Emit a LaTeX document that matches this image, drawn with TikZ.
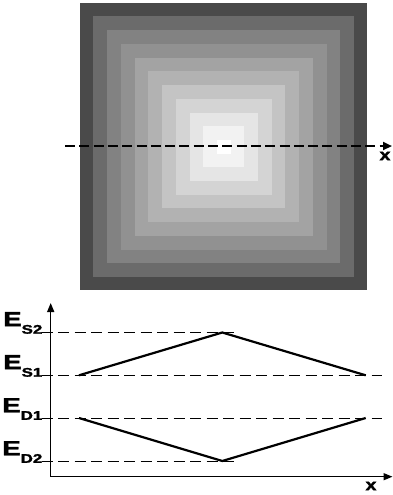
\documentclass[tikz,border=0pt]{standalone}
\usepackage{graphicx}
\usepackage{fontspec}
\setmainfont{Liberation Sans}
\newfontfamily\gordo{Liberation Sans}[BoldFeatures={FakeBold=1.6}]
\usetikzlibrary{arrows.meta,calc,positioning}
\tikzset{
  corte/.style={
    line width=2.4pt,
    dash pattern=on 10pt off 4.3pt,
    -{Triangle[length=9pt,width=8pt]}
  },
  eje/.style={
    line width=1.5pt,
    -{Triangle[length=9pt,width=7pt]}
  },
  nivel/.style={
    line width=0.9pt,
    dash pattern=on 11pt off 5.5pt
  },
  banda/.style={
    line width=2.2pt,
    line join=miter
  },
  energia/.style={
    anchor=south east,
    inner sep=0pt,
    font=\gordo\bfseries\fontsize{20.5}{22}\selectfont
  },
  eje x/.style={
    inner sep=0pt,
    font=\gordo\bfseries\fontsize{16}{17}\selectfont
  }
}
\newcommand{\nivelE}[1]{\scalebox{1.35}[1]{E\raisebox{-7.5pt}{\fontsize{12.5}{13}\selectfont #1}}}

\begin{document}
\begin{tikzpicture}[x=1pt,y=-1pt]
\useasboundingbox (0,0) rectangle (393,495);
% squares, dark outside to white centre
\foreach \h/\g in {143.5/71,130.7/58,116.5/49,103/43,89/36,75.5/30,61.5/23,48/17,34/10,20.5/5,7/0}
  \fill[black!\g] (223.5-\h,146.7-\h) rectangle (223.5+\h,146.7+\h);
\coordinate (c0) at (65,146);
\coordinate (c1) at (392,146);
\draw[corte] (c0) -- (c1);
\node[eje x] (xa) at (385,156) {\scalebox{1.25}[1]{x}};

% energy levels
\coordinate (o) at (50.7,476.7);
\coordinate (ytop) at (50.7,303);
\coordinate (xend) at (392.5,476.7);
\foreach \n/\y/\e in {s2/332.5/237,s1/375.3/382,d1/418/382,d2/461/237}{
  \coordinate (\n a) at (41.5,\y);
  \coordinate (\n b) at (\e,\y);
  \draw[nivel] (\n a) -- (\n b);
}
\draw[eje] (o) -- (ytop);
\draw[eje] (o) -- (xend);
\node[energia] (es2) at (42.5,334) {\nivelE{S2}};
\node[energia] (es1) at (42.5,377) {\nivelE{S1}};
\node[energia] (ed1) at (42.5,420) {\nivelE{D1}};
\node[energia] (ed2) at (42.5,463) {\nivelE{D2}};
\node[eje x] (xb) at (371,486) {\scalebox{1.25}[1]{x}};

\coordinate (s1l) at (79,375.3);
\coordinate (s2m) at (222.3,332.5);
\coordinate (s1r) at (365.7,375.3);
\coordinate (d1l) at (79,418);
\coordinate (d2m) at (222.3,461);
\coordinate (d1r) at (365.7,418);
\draw[banda] (s1l) -- (s2m) -- (s1r);
\draw[banda] (d1l) -- (d2m) -- (d1r);
\end{tikzpicture}
\end{document}
